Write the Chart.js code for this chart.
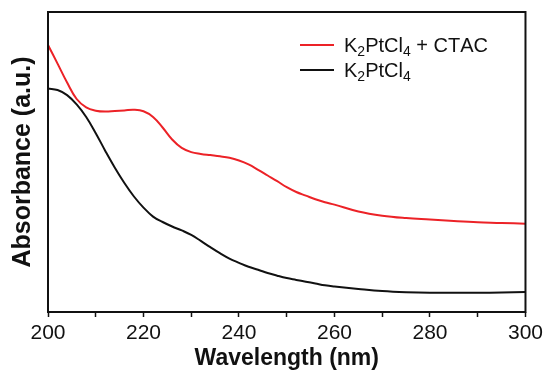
<!DOCTYPE html>
<html>
<head>
<meta charset="utf-8">
<script src="https://cdn.jsdelivr.net/npm/chart.js@4/dist/chart.umd.min.js"></script>
<style>
  html, body { margin: 0; padding: 0; background: #fff; }
  #wrap { width: 547px; height: 372px; }
</style>
</head>
<body>
<div id="wrap"><canvas id="uv"></canvas></div>
<script>
// UV-vis spectra, absorbance in arbitrary units
const wavelength = [200, 202, 204, 206, 208, 210, 212, 214, 216, 218, 220, 222, 224, 226, 228, 230,
    232, 234, 236, 238, 240, 242, 244, 246, 248, 250, 252, 254, 256, 258, 260,
    265, 270, 275, 280, 285, 290, 295, 300]
const absCtac = [0.890, 0.828, 0.765, 0.710, 0.682, 0.671, 0.668, 0.670, 0.672, 0.674, 0.669, 0.650, 0.615, 0.575, 0.547, 0.533,
    0.527, 0.523, 0.519, 0.514, 0.505, 0.492, 0.474, 0.455, 0.436, 0.416, 0.400, 0.388, 0.376, 0.366, 0.358,
    0.335, 0.321, 0.313, 0.308, 0.303, 0.299, 0.297, 0.294]
const absPt = [0.745, 0.740, 0.723, 0.692, 0.650, 0.596, 0.537, 0.481, 0.430, 0.385, 0.348, 0.318, 0.300, 0.285, 0.272, 0.257,
    0.237, 0.216, 0.196, 0.178, 0.164, 0.151, 0.141, 0.130, 0.121, 0.113, 0.107, 0.101, 0.095, 0.089, 0.085,
    0.077, 0.070, 0.066, 0.064, 0.064, 0.064, 0.065, 0.067]
const seriesLabels = ['K₂PtCl₄ + CTAC', 'K₂PtCl₄']
const seriesColors = ['#ec2227', '#111111']

const FONT = '"Liberation Sans", Arial, sans-serif'
const toPoints = ys => wavelength.map((x, i) => ({x: x, y: ys[i]}))

// frame round the plot area
const frame = {
    id: 'frame',
    afterDraw(chart) {
        const a = chart.chartArea, ctx = chart.ctx
        ctx.save()
        ctx.strokeStyle = '#111'
        ctx.lineWidth = 2
        ctx.strokeRect(a.left, a.top, a.right - a.left, a.bottom - a.top)
        ctx.restore()
    }
}

// legend inside the plot, with subscript digits
const subLegend = {
    id: 'subLegend',
    afterDraw(chart) {
        const ctx = chart.ctx
        const subs = '₀₁₂₃₄₅₆₇₈₉'
        chart.data.datasets.forEach((ds, i) => {
            const y = 45 + i * 25
            ctx.save()
            ctx.strokeStyle = ds.borderColor
            ctx.lineWidth = 2
            ctx.beginPath()
            ctx.moveTo(300, y)
            ctx.lineTo(334, y)
            ctx.stroke()
            ctx.fillStyle = '#111'
            ctx.textBaseline = 'alphabetic'
            let x = 344
            for (const ch of ds.label) {
                const k = subs.indexOf(ch)
                if (k >= 0) {
                    ctx.font = '14px ' + FONT
                    ctx.fillText(String(k), x, y + 11)
                    x += ctx.measureText(String(k)).width
                } else {
                    ctx.font = '20px ' + FONT
                    ctx.fillText(ch, x, y + 7)
                    x += ctx.measureText(ch).width
                }
            }
            ctx.restore()
        })
    }
}

new Chart(document.getElementById('uv'), {
    type: 'line',
    data: {
        datasets: [
            {label: seriesLabels[0], data: toPoints(absCtac), borderColor: seriesColors[0]},
            {label: seriesLabels[1], data: toPoints(absPt), borderColor: seriesColors[1]}
        ]
    },
    options: {
        responsive: true,
        maintainAspectRatio: false,
        animation: false,
        events: [],
        layout: {padding: {left: 0, top: 12, right: 21, bottom: 0}},
        elements: {
            line: {borderWidth: 2, tension: 0.4},
            point: {radius: 0}
        },
        plugins: {
            legend: {display: false},
            tooltip: {enabled: false}
        },
        scales: {
            x: {
                type: 'linear',
                min: 200,
                max: 300,
                border: {display: false},
                grid: {drawOnChartArea: false, drawTicks: true, tickLength: 5, tickColor: '#111', tickWidth: 1.5},
                ticks: {
                    stepSize: 10,
                    autoSkip: false,
                    maxRotation: 0,
                    padding: 4,
                    color: '#111',
                    font: {family: FONT, size: 21},
                    callback: v => v % 20 === 0 ? String(v) : ''
                },
                title: {
                    display: true,
                    text: 'Wavelength (nm)',
                    color: '#111',
                    font: {family: FONT, size: 23, weight: 'bold'},
                    padding: 0
                },
                afterFit(scale) { scale.height = 60 }
            },
            y: {
                min: 0,
                max: 1,
                border: {display: false},
                grid: {display: false},
                ticks: {display: false},
                title: {
                    display: true,
                    text: 'Absorbance (a.u.)',
                    color: '#111',
                    font: {family: FONT, size: 25, weight: 'bold'},
                    padding: {top: 8, bottom: 0}
                },
                afterFit(scale) { scale.width = 48 }
            }
        }
    },
    plugins: [frame, subLegend]
})
</script>
</body>
</html>
